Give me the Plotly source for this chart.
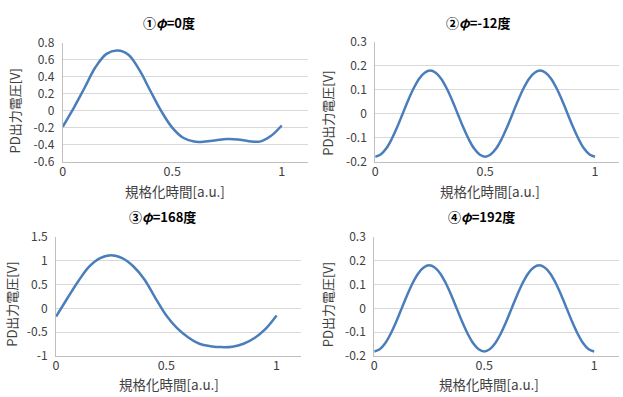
import plotly.graph_objects as go

# ---------------- data ----------------
t_coarse = [0.0, 0.05, 0.10, 0.15, 0.20, 0.25, 0.30, 0.35, 0.40, 0.45, 0.50,
            0.55, 0.60, 0.65, 0.70, 0.75, 0.80, 0.85, 0.90, 0.95, 1.0]
t_fine = [0.0, 0.025, 0.05, 0.075, 0.10, 0.125, 0.15, 0.175, 0.20, 0.225, 0.25,
          0.275, 0.30, 0.325, 0.35, 0.375, 0.40, 0.425, 0.45, 0.475, 0.50,
          0.525, 0.55, 0.575, 0.60, 0.625, 0.65, 0.675, 0.70, 0.725, 0.75,
          0.775, 0.80, 0.825, 0.85, 0.875, 0.90, 0.925, 0.95, 0.975, 1.0]

v_phi0 = [-0.19, 0.03, 0.27, 0.515, 0.67, 0.71, 0.66, 0.48, 0.235, -0.005, -0.20,
          -0.32, -0.365, -0.365, -0.35, -0.335, -0.34, -0.36, -0.365, -0.30, -0.175]
v_phi168 = [-0.17, 0.20, 0.56, 0.87, 1.05, 1.11, 1.05, 0.88, 0.61, 0.22, -0.15,
            -0.42, -0.61, -0.74, -0.79, -0.81, -0.80, -0.74, -0.62, -0.43, -0.15]
v_phim12 = [-0.18, -0.171, -0.146, -0.106, -0.056, 0.0, 0.056, 0.106, 0.146, 0.171, 0.18,
            0.171, 0.146, 0.106, 0.056, 0.0, -0.056, -0.106, -0.146, -0.171, -0.18,
            -0.171, -0.146, -0.106, -0.056, 0.0, 0.056, 0.106, 0.146, 0.171, 0.18,
            0.171, 0.146, 0.106, 0.056, 0.0, -0.056, -0.106, -0.146, -0.171, -0.18]
v_phi192 = [-0.18, -0.171, -0.146, -0.106, -0.056, 0.0, 0.056, 0.106, 0.146, 0.171, 0.18,
            0.171, 0.146, 0.106, 0.056, 0.0, -0.056, -0.106, -0.146, -0.171, -0.18,
            -0.171, -0.146, -0.106, -0.056, 0.0, 0.056, 0.106, 0.146, 0.171, 0.18,
            0.171, 0.146, 0.106, 0.056, 0.0, -0.056, -0.106, -0.146, -0.171, -0.18]

titles = ["<b>①<i>φ</i>=0度</b>", "<b>②<i>φ</i>=-12度</b>",
          "<b>③<i>φ</i>=168度</b>", "<b>④<i>φ</i>=192度</b>"]
x_title = "規格化時間[a.u.]"
y_title = "PD出力電圧[V]"

x_ticks = [0, 0.5, 1]
x_ticktext = ["0", "0.5", "1"]
y_ticks1 = [-0.6, -0.4, -0.2, 0, 0.2, 0.4, 0.6, 0.8]
y_ticktext1 = ["-0.6", "-0.4", "-0.2", "0", "0.2", "0.4", "0.6", "0.8"]
y_ticks2 = [-0.2, -0.1, 0, 0.1, 0.2, 0.3]
y_ticktext2 = ["-0.2", "-0.1", "0", "0.1", "0.2", "0.3"]
y_ticks3 = [-1, -0.5, 0, 0.5, 1, 1.5]
y_ticktext3 = ["-1", "-0.5", "0", "0.5", "1", "1.5"]

# ---------------- layout helpers ----------------
W, H = 623, 397
FONT = "Noto Sans CJK JP, Noto Sans, sans-serif"
LINE = "#4a7ebb"


def px_x(p):
    return p / W


def px_y(p):
    return 1 - p / H


panels = [
    (t_coarse, v_phi0, (60, 306.7), (34.3, 158.3), [0, 1.121], [-0.6, 0.8], y_ticks1, y_ticktext1),
    (t_fine, v_phim12, (374, 619), (33.3, 158.3), [0, 1.109], [-0.2, 0.3], y_ticks2, y_ticktext2),
    (t_coarse, v_phi168, (53.3, 299.3), (236.7, 361.7), [0, 1.11], [-1, 1.5], y_ticks3, y_ticktext3),
    (t_fine, v_phi192, (373, 619), (236.7, 361.7), [0, 1.113], [-0.2, 0.3], y_ticks2, y_ticktext2),
]

title_pos = [(167, 13), (478, 13), (160, 216), (481, 216)]
xt_pos = [(173, 189), (489, 189), (167, 391), (488, 391)]
yt_pos = [(12, 105), (326, 108), (9, 307), (326, 308)]

fig = go.Figure()
layout = dict(width=W, height=H, margin=dict(l=0, r=0, t=0, b=0),
              paper_bgcolor="white", plot_bgcolor="white", showlegend=False,
              font=dict(family=FONT, color="#404040"))
annotations = []

for i, (t, v, xd, yd, xr, yr, yt, ytt) in enumerate(panels):
    n = "" if i == 0 else str(i + 1)
    fig.add_trace(go.Scatter(x=t, y=v, mode="lines", line=dict(color=LINE, width=2.5, shape="spline"),
                             xaxis="x" + n, yaxis="y" + n, hoverinfo="skip"))
    layout["xaxis" + n] = dict(domain=[px_x(xd[0]), px_x(xd[1])], range=xr, anchor="y" + n,
                               tickvals=x_ticks, ticktext=x_ticktext, showgrid=False, zeroline=False,
                               showline=True, linecolor="#bfbfbf", linewidth=1, ticks="",
                               ticklabelstandoff=-2,
                               tickfont=dict(family=FONT, size=12.5, color="#404040"))
    layout["yaxis" + n] = dict(domain=[px_y(yd[1]), px_y(yd[0])], range=yr, anchor="x" + n,
                               tickvals=yt, ticktext=ytt, showgrid=True, gridcolor="#d9d9d9",
                               gridwidth=1, zeroline=False, showline=True, linecolor="#bfbfbf",
                               linewidth=1, ticks="", ticklabelstandoff=5,
                               tickfont=dict(family=FONT, size=12, color="#404040"))
    annotations.append(dict(text=titles[i], x=px_x(title_pos[i][0]), y=px_y(title_pos[i][1]),
                            xref="paper", yref="paper", showarrow=False, xanchor="center",
                            yanchor="middle", font=dict(family=FONT, size=13, color="#000000")))
    annotations.append(dict(text=x_title, x=px_x(xt_pos[i][0]), y=px_y(xt_pos[i][1]),
                            xref="paper", yref="paper", showarrow=False, xanchor="center",
                            yanchor="middle", font=dict(family=FONT, size=13.5, color="#404040")))
    annotations.append(dict(text=y_title, x=px_x(yt_pos[i][0]), y=px_y(yt_pos[i][1]),
                            xref="paper", yref="paper", showarrow=False, xanchor="center",
                            yanchor="middle", textangle=-90,
                            font=dict(family=FONT, size=13, color="#404040")))

layout["annotations"] = annotations
fig.update_layout(**layout)
fig.write_html("out.html")
